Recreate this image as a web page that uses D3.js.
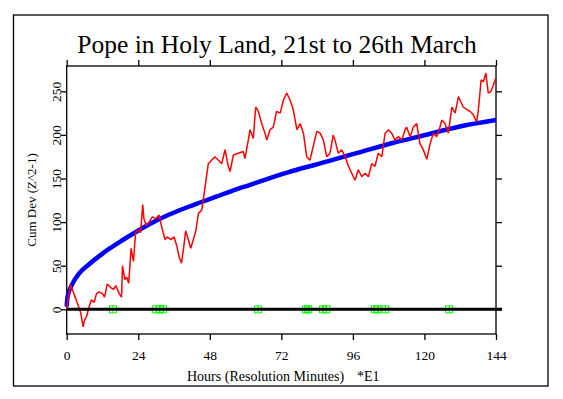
<!DOCTYPE html>
<html>
<head>
<meta charset="utf-8">
<script src="https://cdn.jsdelivr.net/npm/d3@7"></script>
<style>
  body { margin: 0; background: #fff; }
  svg { display: block; font-family: "Liberation Serif", "Times New Roman", serif; }
</style>
</head>
<body>
<div id="app"></div>
<script>
// cumulative deviation (red), hours vs value
const cumHours = [0, 0.5, 1.3, 2.4, 3.6, 4.7, 5.5, 6, 6.7, 7.5, 8.3, 9.2, 10, 10.9, 12, 12.7, 13.6, 14.8, 15.7, 16.5,
  17.6, 18.4, 18.7, 19.5, 20.1, 20.8, 21.6, 22.4, 23.1, 24, 24.8, 25.5, 25.9, 26.7, 27.6, 28.7, 29.9, 31, 32.1, 33, 33.7,
  35, 36, 37, 37.7, 38.5, 39.2, 39.9, 40.8, 41.6, 42.5, 43.3, 44.2, 45.3, 46.4, 47.5, 48.6, 49.7, 50.9, 52, 53.1,
  54.2, 54.8, 55.9, 57.6, 59.2, 59.8, 60.9, 61.5, 62.6, 63.4, 64.3, 65.4, 66.5, 67.1, 68.2, 69.3, 70.4, 71.6, 72.7, 73.8,
  74.9, 76, 77.2, 78.3, 79.4, 80.5, 81.6, 82.7, 83.9, 85, 86.1, 87.2, 88.3, 88.9, 89.4, 90, 91.1, 92.2, 93.4, 94.5,
  95.6, 96.7, 97.8, 99, 100.1, 101.2, 102.3, 103.4, 104.5, 105.7, 106.8, 107.9, 109, 110.1, 111.2, 112.4, 113.5, 114, 115.2, 116.3,
  117.4, 118.5, 119.6, 120.8, 121.9, 123, 124.1, 125.2, 125.8, 126.9, 128, 128.6, 129.2, 130.3, 131.4, 131.9, 133, 134.2, 135.3, 136.4,
  137.5, 138.1, 139, 139.8, 140.6, 141.4, 142.3, 143.1, 143.9]
const cumValues = [0, 12, 28, 18, 7, -4, -20, -12, -8, 3, 11, 8, 18, 20, 18, 14, 29, 25, 23, 27,
  18, 14, 50, 34, 37, 30, 70, 55, 88, 91, 88, 120, 104, 96, 100, 106, 104, 108, 91, 80, 83,
  80, 83, 72, 60, 53, 70, 90, 80, 70, 80, 90, 110, 114, 140, 167, 171, 175, 171, 167, 183,
  164, 158, 177, 179, 181, 173, 194, 206, 196, 232, 227, 213, 202, 194, 206, 209, 227, 225, 240, 248,
  240, 229, 206, 213, 202, 175, 171, 187, 204, 202, 194, 175, 179, 190, 200, 194, 179, 183, 175, 164,
  156, 148, 160, 152, 156, 152, 167, 164, 179, 175, 202, 206, 202, 194, 198, 194, 206, 209, 198, 209,
  213, 190, 183, 172, 190, 202, 198, 209, 217, 213, 202, 217, 232, 225, 244, 240, 232, 229, 227, 223,
  215, 229, 263, 261, 271, 248, 250, 257, 265]

// probability envelope (blue)
const envHours = [0, 0.3, 2, 4.2, 7.6, 10.9, 14.3, 18.8, 23.2, 27.7, 33.3, 38.9, 44.5, 50.1, 55.7, 61.3, 66.9, 72.5, 78, 83.1,
  89.8, 97.8, 109, 120.3, 131.5, 144]
const envValues = [3, 14.5, 29.8, 41.3, 52, 61, 69.5, 79.5, 88.7, 97.5, 107, 115, 122.2, 129.1, 136.2, 142.5, 149, 155.2, 160.9, 165.5,
  172, 179.6, 190.4, 199.9, 209.4, 217]

// event markers on the zero line
const markerHours = [15.5, 30.0, 31.3, 32.3, 64.2, 80.3, 81.0, 86.0, 87.1, 103.4, 104.2, 106.9, 128.3]

const xTicks = [0, 24, 48, 72, 96, 120, 144]
const yTicks = [0, 50, 100, 150, 200, 250]

const width = 563, height = 399
const pLeft = 66.7, pRight = 496, pTop = 66, pBottom = 334

const fx = d3.scaleLinear().domain([0, 144]).range([pLeft, pRight])
const fy = d3.scaleLinear().domain([-28.3, 279]).range([pBottom, pTop])

const svg = d3.select("#app").append("svg")
  .attr("width", width)
  .attr("height", height)

// outer border
svg.append("rect")
  .attr("x", 13.5).attr("y", 15)
  .attr("width", 534.5).attr("height", 371)
  .attr("fill", "none").attr("stroke", "#000").attr("stroke-width", 1.3)

svg.append("text")
  .attr("x", 277).attr("y", 53)
  .attr("text-anchor", "middle")
  .attr("font-size", 25.5)
  .text("Pope in Holy Land, 21st to 26th March")

// axes
const gb = svg.append("g")
  .attr("transform", `translate(0,${pBottom})`)
  .call(d3.axisBottom(fx).tickValues(xTicks).tickSize(6).tickSizeOuter(0))
gb.selectAll("text")
  .attr("y", 26).attr("dy", null)
  .attr("font-size", 13.5)
gb.attr("font-family", null).attr("font-size", null)

svg.append("g")
  .attr("transform", `translate(0,${pTop})`)
  .call(d3.axisTop(fx).tickValues(xTicks).tickSize(6).tickSizeOuter(0).tickFormat(""))

const gl = svg.append("g")
  .attr("transform", `translate(${pLeft},0)`)
  .call(d3.axisLeft(fy).tickValues(yTicks).tickSize(6).tickSizeOuter(0))
gl.selectAll("text")
  .attr("transform", "rotate(-90)")
  .attr("x", 0).attr("y", -5.5).attr("dy", null)
  .attr("text-anchor", "middle")
  .attr("font-size", 13.5)
gl.attr("font-family", null).attr("font-size", null)

svg.append("g")
  .attr("transform", `translate(${pRight},0)`)
  .call(d3.axisRight(fy).tickValues(yTicks).tickSize(6).tickSizeOuter(0).tickFormat(""))

svg.selectAll(".domain").remove()
svg.selectAll(".tick line").attr("stroke", "#000").attr("stroke-width", 1.3)

svg.append("rect")
  .attr("x", pLeft).attr("y", pTop)
  .attr("width", pRight - pLeft).attr("height", pBottom - pTop)
  .attr("fill", "none").attr("stroke", "#000").attr("stroke-width", 1.3)

svg.append("text")
  .attr("transform", `translate(36,200) rotate(-90)`)
  .attr("text-anchor", "middle")
  .attr("font-size", 13)
  .text("Cum Dev (Z^2-1)")

svg.append("text")
  .attr("x", 187).attr("y", 381)
  .attr("font-size", 14)
  .text("Hours (Resolution Minutes)")
svg.append("text")
  .attr("x", 357).attr("y", 381)
  .attr("font-size", 14)
  .text("*E1")

// lines
const line = d3.line()
  .x(d => fx(d[0]))
  .y(d => fy(d[1]))

svg.append("path")
  .datum(d3.zip(envHours, envValues))
  .attr("d", line.curve(d3.curveMonotoneX))
  .attr("fill", "none")
  .attr("stroke", "#0000ff")
  .attr("stroke-width", 4.5)

svg.append("path")
  .datum(d3.zip(cumHours, cumValues))
  .attr("d", line.curve(d3.curveLinear))
  .attr("fill", "none")
  .attr("stroke", "#ff0000")
  .attr("stroke-width", 1.5)
  .attr("stroke-linejoin", "bevel")

const gm = svg.append("g")
  .attr("fill", "none")
  .attr("stroke", "#00ff00")
  .attr("stroke-width", 1)
gm.selectAll("rect")
  .data(markerHours)
  .join("rect")
    .attr("x", d => fx(d) - 3.5)
    .attr("y", fy(0) - 3.5)
    .attr("width", 7)
    .attr("height", 7)
gm.selectAll("path")
  .data(markerHours)
  .join("path")
    .attr("d", d => `M${fx(d)},${fy(0) - 3.5}v7`)

svg.append("path")
  .attr("d", `M${pLeft},${fy(0)}H${pRight + 6}`)
  .attr("stroke", "#000")
  .attr("stroke-width", 3)
</script>
</body>
</html>
